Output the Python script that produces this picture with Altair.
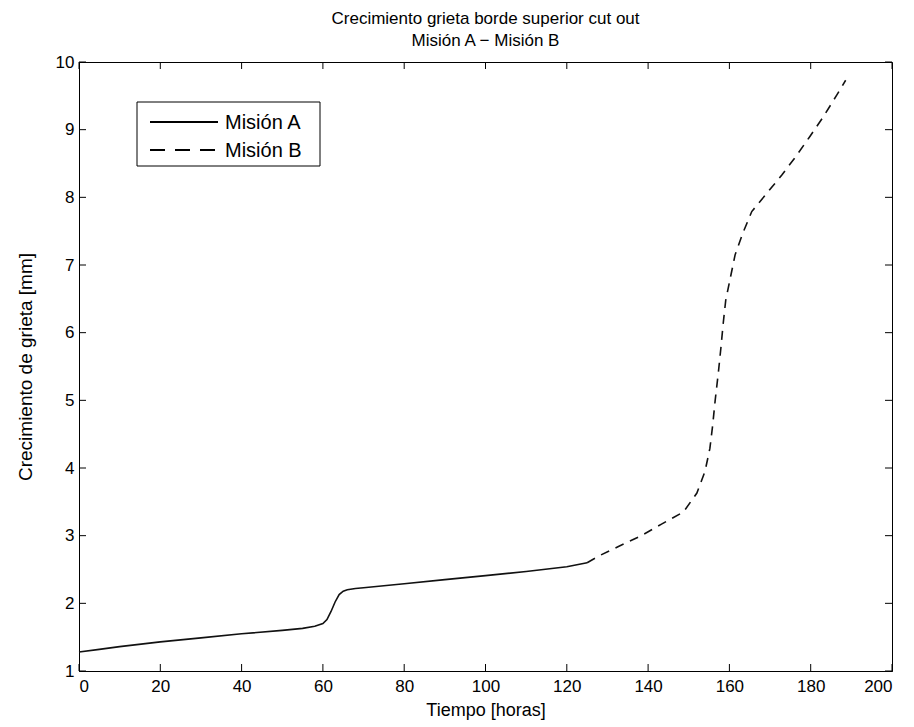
import altair as alt
import pandas as pd

# ---- data ----
series_names = ["Misión A", "Misión B"]

a_x = [0, 5, 10, 20, 30, 40, 50, 55, 58, 60, 61, 62, 63, 64, 65, 66, 68, 70,
       80, 90, 100, 110, 120, 125]
a_y = [1.28, 1.32, 1.36, 1.43, 1.49, 1.55, 1.60, 1.63, 1.66, 1.70, 1.76, 1.88,
       2.02, 2.13, 2.18, 2.20, 2.22, 2.23, 2.29, 2.35, 2.41, 2.47, 2.54, 2.60]

b_x = [125, 128.2, 132.7, 138, 143.3, 148.7, 152, 154, 155.2, 155.9, 156.5,
       157.3, 157.9, 158.5, 159.1, 160.3, 161.4, 163.3, 165.5, 169.2, 172.9,
       176.3, 179.8, 183.1, 186.4, 188.6]
b_y = [2.60, 2.71, 2.84, 2.99, 3.17, 3.35, 3.63, 3.95, 4.29, 4.64, 5.00,
       5.42, 5.77, 6.15, 6.48, 6.83, 7.15, 7.47, 7.79, 8.06, 8.33, 8.60,
       8.90, 9.19, 9.51, 9.73]

x_ticks = [0, 20, 40, 60, 80, 100, 120, 140, 160, 180, 200]
y_ticks = [1, 2, 3, 4, 5, 6, 7, 8, 9, 10]

title_lines = ["Crecimiento grieta borde superior cut out", "Misión A − Misión B"]
x_title = "Tiempo [horas]"
y_title = "Crecimiento de grieta [mm]"

W, H = 813, 609
FONT = "Liberation Sans"
TICK = 7

df_a = pd.DataFrame({"x": a_x, "y": a_y})
df_b = pd.DataFrame({"x": b_x, "y": b_y})
df_xt = pd.DataFrame({"x": x_ticks})
df_yt = pd.DataFrame({"y": y_ticks})

xscale = alt.Scale(domain=[0, 200], nice=False, zero=False)
yscale = alt.Scale(domain=[1, 10], nice=False, zero=False)
xaxis = alt.Axis(values=x_ticks, tickSize=0, labelPadding=7, title=x_title,
                 titlePadding=7, titleFontSize=18, grid=False)
yaxis = alt.Axis(values=y_ticks, tickSize=0, labelPadding=5, title=y_title,
                 titlePadding=20, titleFontSize=19, grid=False)

X = lambda: alt.X("x:Q", scale=xscale, axis=xaxis)
Y = lambda: alt.Y("y:Q", scale=yscale, axis=yaxis)

line_a = alt.Chart(df_a).mark_line(color="#111111", strokeWidth=1.6).encode(x=X(), y=Y())
line_b = alt.Chart(df_b).mark_line(color="#111111", strokeWidth=1.6,
                                   strokeDash=[9, 7]).encode(x=X(), y=Y())

tick_bottom = alt.Chart(df_xt).mark_rule(color="black", strokeWidth=1).encode(
    x=X(), y=alt.value(H), y2=alt.value(H - TICK))
tick_top = alt.Chart(df_xt).mark_rule(color="black", strokeWidth=1).encode(
    x=X(), y=alt.value(0), y2=alt.value(TICK))
tick_left = alt.Chart(df_yt).mark_rule(color="black", strokeWidth=1).encode(
    y=Y(), x=alt.value(0), x2=alt.value(TICK))
tick_right = alt.Chart(df_yt).mark_rule(color="black", strokeWidth=1).encode(
    y=Y(), x=alt.value(W), x2=alt.value(W - TICK))

one = pd.DataFrame({"k": [0]})
leg_box = alt.Chart(one).mark_rect(fill="white", stroke="black", strokeWidth=1).encode(
    x=alt.value(58), x2=alt.value(241), y=alt.value(40), y2=alt.value(104))
leg_a = alt.Chart(one).mark_rule(color="black", strokeWidth=1.8).encode(
    x=alt.value(71), x2=alt.value(139), y=alt.value(60))
leg_b = alt.Chart(one).mark_rule(color="black", strokeWidth=1.8, strokeDash=[15, 10]).encode(
    x=alt.value(71), x2=alt.value(139), y=alt.value(88))
txt_a = alt.Chart(one).mark_text(align="left", baseline="middle", font=FONT,
                                 fontSize=20, color="black").encode(
    x=alt.value(146), y=alt.value(61), text=alt.value(series_names[0]))
txt_b = alt.Chart(one).mark_text(align="left", baseline="middle", font=FONT,
                                 fontSize=20, color="black").encode(
    x=alt.value(146), y=alt.value(89), text=alt.value(series_names[1]))

chart = alt.layer(
    line_a, line_b, tick_bottom, tick_top, tick_left, tick_right,
    leg_box, leg_a, leg_b, txt_a, txt_b
).properties(
    width=W, height=H,
    title=alt.TitleParams(text=title_lines, anchor="middle", font=FONT, fontSize=17,
                          fontWeight="normal", color="black", offset=3, lineHeight=22),
    autosize=alt.AutoSizeParams(type="none"),
    padding={"left": 71, "top": 54, "right": 14, "bottom": 56},
).configure_view(
    stroke="black", strokeWidth=1
).configure_axis(
    domainColor="black", domainWidth=1, labelFont=FONT, labelFontSize=17,
    labelColor="black", titleFont=FONT, titleFontWeight="normal",
    titleColor="black"
)

chart.save("out.html", embed_options={"renderer": "svg", "actions": False})
